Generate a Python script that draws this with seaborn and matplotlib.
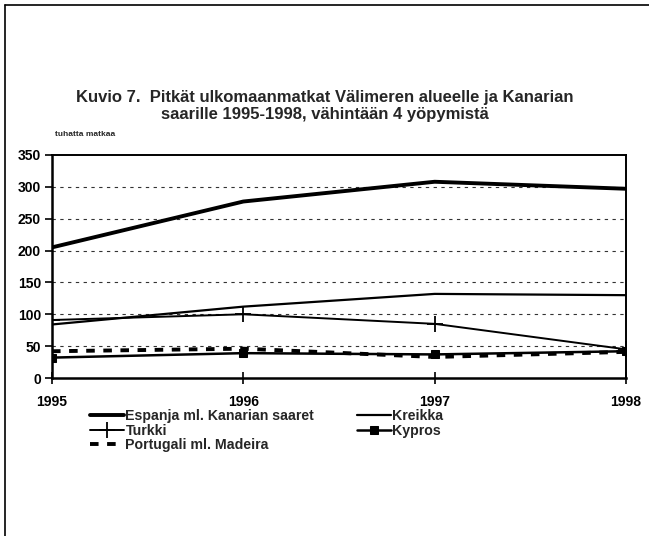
import matplotlib
matplotlib.use("Agg")
import matplotlib.pyplot as plt
from matplotlib.lines import Line2D
import seaborn as sns
import pandas as pd

years = [1995, 1996, 1997, 1998]
espanja = [205, 277, 308, 297]
kreikka = [84, 112, 132, 130]
turkki = [91, 100, 85, 45]
kypros = [32, 39, 37, 42]
portugali = [42, 46, 33, 41]

series_names = ["Espanja ml. Kanarian saaret", "Turkki", "Portugali ml. Madeira",
                "Kreikka", "Kypros"]
y_ticks = [0, 50, 100, 150, 200, 250, 300, 350]
title = "Kuvio 7.  Pitkät ulkomaanmatkat Välimeren alueelle ja Kanarian\nsaarille 1995-1998, vähintään 4 yöpymistä"
unit = "tuhatta matkaa"

sns.set_theme(style="white")
plt.rcParams["font.family"] = ["Liberation Sans", "DejaVu Sans"]
plt.rcParams["font.weight"] = "bold"

fig = plt.figure(figsize=(6.49, 5.36), dpi=100)
ax = fig.add_axes([52 / 649, 1 - 378 / 536, (626 - 52) / 649, (378 - 155) / 536])

data = {
    series_names[0]: espanja,
    series_names[1]: turkki,
    series_names[2]: portugali,
    series_names[3]: kreikka,
    series_names[4]: kypros,
}
styles = {
    series_names[0]: dict(lw=2.8, linestyle="-"),
    series_names[1]: dict(lw=1.4, linestyle="-", marker="+", ms=12, mew=1.3,
                          mec="black", mfc="black"),
    series_names[2]: dict(lw=2.8, linestyle=(0, (2.2, 2.2))),
    series_names[3]: dict(lw=1.6, linestyle="-"),
    series_names[4]: dict(lw=1.8, linestyle="-", marker="s", ms=6,
                          mec="black", mfc="black"),
}

for name in series_names:
    df = pd.DataFrame({"year": years, "value": data[name]})
    sns.lineplot(data=df, x="year", y="value", ax=ax, color="black",
                 label=name, **styles[name])

ax.set_xlim(1995, 1998)
ax.set_ylim(0, 350)
ax.set_xticks(years)
ax.set_xticklabels([str(y) for y in years])
ax.set_yticks(y_ticks)
ax.set_xlabel("")
ax.set_ylabel("")

for v in y_ticks[1:-1]:
    ax.axhline(v, color="#333333", lw=0.8, linestyle=(0, (3, 4)), zorder=0)

for s in ax.spines.values():
    s.set_color("black")
    s.set_linewidth(1.4)
ax.spines["left"].set_linewidth(1.8)
ax.spines["bottom"].set_linewidth(1.8)

ax.tick_params(axis="y", direction="out", length=5, width=1.2, pad=3,
               labelsize=10, colors="black", left=True)
ax.tick_params(axis="x", direction="inout", length=9, width=1.2, pad=8,
               labelsize=10, colors="black", bottom=True)
for lbl in ax.get_xticklabels() + ax.get_yticklabels():
    lbl.set_fontweight("bold")

handles, labels = ax.get_legend_handles_labels()
ax.get_legend().remove()
fig.legend(handles, labels, ncol=2, loc="upper left",
           bbox_to_anchor=(90 / 649, 1 - 409 / 536), frameon=False,
           prop={"weight": "bold", "size": 10.2},
           handlelength=2.4, handletextpad=0.1, labelspacing=0.05,
           columnspacing=3.0, borderpad=0, borderaxespad=0)

fig.text(0.5, 1 - 106 / 536, title, ha="center", va="center",
         fontsize=12, fontweight="bold", linespacing=1.1)
fig.text(55 / 649, 1 - 135 / 536, unit, ha="left", va="center",
         fontsize=6, fontweight="bold")

fig.add_artist(Line2D([5 / 649, 5 / 649], [0, 1 - 5 / 536], color="black",
                      lw=1.2, transform=fig.transFigure))
fig.add_artist(Line2D([5 / 649, 1], [1 - 5 / 536, 1 - 5 / 536], color="black",
                      lw=1.2, transform=fig.transFigure))

fig.savefig("out.png", dpi=100)
